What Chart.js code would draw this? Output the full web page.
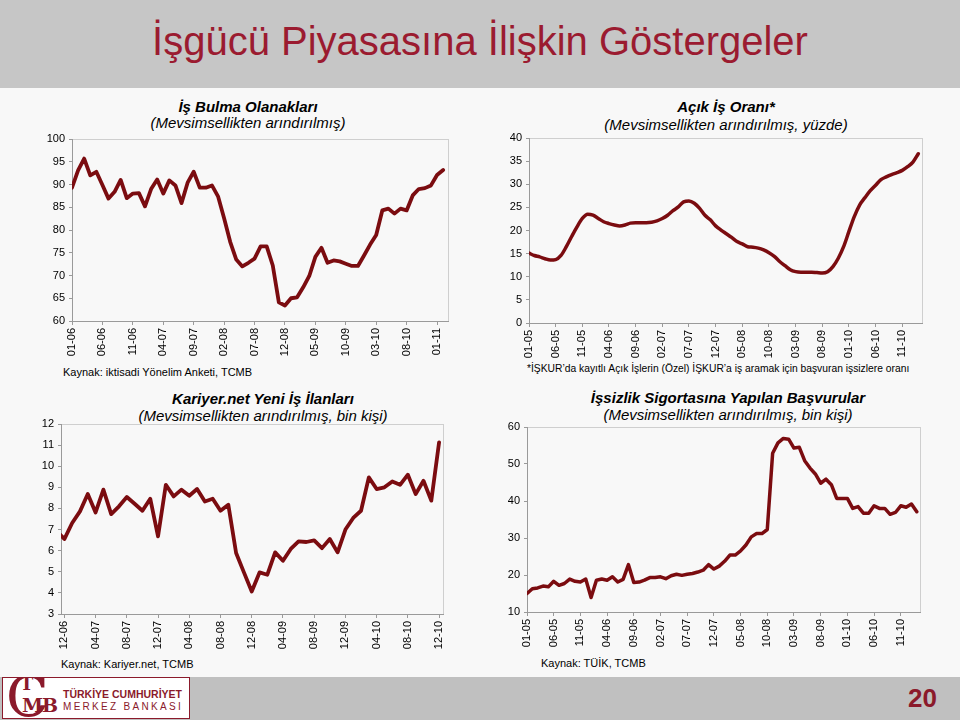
<!DOCTYPE html>
<html>
<head>
<meta charset="utf-8">
<script src="https://cdn.jsdelivr.net/npm/chart.js@4.4.1/dist/chart.umd.min.js"></script>
<style>
html,body{margin:0;padding:0;}
body{width:960px;height:720px;position:relative;background:#f8f8f8;font-family:"Liberation Sans",Arial,sans-serif;overflow:hidden;}
#header{position:absolute;left:0;top:0;width:960px;height:88px;background:#c6c6c6;}
#heading{position:absolute;left:0;width:960px;top:17px;text-align:center;font-size:40px;line-height:48px;color:#9b1b30;white-space:nowrap;}
.t{position:absolute;width:440px;text-align:center;font-weight:bold;font-style:italic;font-size:15px;line-height:16px;color:#000;white-space:nowrap;}
.s{position:absolute;width:440px;text-align:center;font-style:italic;font-size:15px;line-height:16px;color:#000;white-space:nowrap;}
.src{position:absolute;font-size:11px;line-height:12px;color:#000;white-space:nowrap;}
canvas{position:absolute;}
#footer{position:absolute;left:0;top:677px;width:960px;height:43px;background:#c0c0c0;}
#logo{position:absolute;left:2px;top:677px;width:186px;height:40px;background:#fff;border:1px solid #8b1a2b;overflow:hidden;}
#pg{position:absolute;left:908px;top:684px;font-size:26px;font-weight:bold;color:#8b1a2b;line-height:28px;}
</style>
</head>
<body>
<div id="header"></div>
<div id="heading">İşgücü Piyasasına İlişkin Göstergeler</div>

<div class="t" style="left:28px;top:99px;">İş Bulma Olanakları</div>
<div class="s" style="left:28px;top:115px;">(Mevsimsellikten arındırılmış)</div>
<div class="src" style="left:63px;top:366px;">Kaynak: iktisadi Yönelim Anketi, TCMB</div>

<div class="t" style="left:506px;top:99px;">Açık İş Oranı*</div>
<div class="s" style="left:506px;top:117px;">(Mevsimsellikten arındırılmış, yüzde)</div>
<div class="src" style="left:527px;top:363px;font-size:10.3px;">*İŞKUR’da kayıtlı Açık İşlerin (Özel) İŞKUR’a iş aramak için başvuran işsizlere oranı</div>

<div class="t" style="left:43px;top:391px;">Kariyer.net Yeni İş İlanları</div>
<div class="s" style="left:43px;top:408px;">(Mevsimsellikten arındırılmış, bin kişi)</div>
<div class="src" style="left:61px;top:658px;">Kaynak: Kariyer.net, TCMB</div>

<div class="t" style="left:508px;top:390px;">İşsizlik Sigortasına Yapılan Başvurular</div>
<div class="s" style="left:508px;top:407px;">(Mevsimsellikten arındırılmış, bin kişi)</div>
<div class="src" style="left:541px;top:657px;">Kaynak: TÜİK, TCMB</div>

<canvas id="c1"></canvas>
<canvas id="c2"></canvas>
<canvas id="c3"></canvas>
<canvas id="c4"></canvas>

<div id="footer"></div>
<div id="logo">
  <div style="position:absolute;left:3px;top:-11px;font-family:'DejaVu Serif',serif;font-size:56px;line-height:60px;color:#8b1a2b;">C</div>
  <div style="position:absolute;left:17px;top:-3px;font-family:'DejaVu Serif',serif;font-size:18px;line-height:18px;color:#8b1a2b;font-weight:bold;">T</div>
  <div style="position:absolute;left:19px;top:17px;font-family:'DejaVu Serif',serif;font-size:19px;line-height:20px;color:#8b1a2b;font-weight:bold;letter-spacing:-1px;">MB</div>
  <div style="position:absolute;left:60px;top:10px;font-size:10.5px;line-height:12px;color:#8b1a2b;font-weight:bold;white-space:nowrap;">TÜRKİYE CUMHURİYET</div>
  <div style="position:absolute;left:60px;top:23px;font-size:10px;line-height:11px;color:#8b1a2b;letter-spacing:2.3px;white-space:nowrap;">MERKEZ BANKASI</div>
</div>
<div id="pg">20</div>

<script>
// ---------- DATA ----------
// İş Bulma Olanakları (01-06 .. 02-11)
const isBulmaStart = [1, 2006];
const isBulma = [89.3, 93.1, 95.7, 92.0, 92.8, 89.9, 86.9, 88.4, 91.0, 87.0,
  88.0, 88.1, 85.2, 89.0, 91.1, 88.0, 90.9, 89.8, 85.9, 90.4,
  92.8, 89.3, 89.3, 89.8, 87.4, 82.6, 77.4, 73.5, 72.0, 72.8,
  73.7, 76.4, 76.4, 72.2, 64.1, 63.4, 65.0, 65.2, 67.4, 69.9,
  74.1, 76.1, 72.8, 73.3, 73.1, 72.6, 72.1, 72.1, 74.4, 76.8,
  78.9, 84.3, 84.7, 83.6, 84.7, 84.3, 87.6, 89.0, 89.2, 89.8, 92.1, 93.2];
const isBulmaYTicks = [60, 65, 70, 75, 80, 85, 90, 95, 100];

// Açık İş Oranı (01-05 .. 02-11)
const acikIsStart = [1, 2005];
const acikIs = [15.1, 14.6, 14.3, 13.9, 13.6, 13.7, 14.6, 16.5, 18.7, 20.8, 22.6, 23.5,
  23.3, 22.6, 21.9, 21.5, 21.2, 21.0, 21.2, 21.6, 21.7, 21.7, 21.7, 21.8,
  22.1, 22.6, 23.3, 24.3, 25.1, 26.2, 26.4, 25.9, 24.8, 23.3, 22.3, 21.0,
  20.1, 19.3, 18.5, 17.6, 17.1, 16.5, 16.4, 16.2, 15.8, 15.2, 14.4, 13.3,
  12.4, 11.5, 11.1, 11.0, 11.0, 11.0, 10.9, 10.8, 11.1, 12.2, 14.0, 16.5,
  19.8, 23.0, 25.5, 27.1, 28.6, 29.8, 31.0, 31.6, 32.1, 32.5, 33.0, 33.8,
  34.8, 36.6];
const acikIsYTicks = [0, 5, 10, 15, 20, 25, 30, 35, 40];

// Kariyer.net Yeni İş İlanları (11-06 .. 12-10)
const kariyerStart = [11, 2006];
const kariyer = [6.95, 6.55, 7.31, 7.86, 8.68, 7.81, 8.89, 7.73, 8.10, 8.54,
  8.22, 7.89, 8.46, 6.68, 9.12, 8.57, 8.89, 8.60, 8.92, 8.33,
  8.46, 7.89, 8.18, 5.89, 4.97, 4.07, 4.97, 4.86, 5.92, 5.52,
  6.08, 6.44, 6.41, 6.49, 6.12, 6.55, 5.92, 7.00, 7.55, 7.89,
  9.47, 8.92, 9.00, 9.28, 9.12, 9.60, 8.68, 9.31, 8.37, 11.13];
const kariyerYTicks = [3, 4, 5, 6, 7, 8, 9, 10, 11, 12];

// İşsizlik Sigortasına Yapılan Başvurular (01-05 .. 02-11)
const sigortaStart = [1, 2005];
const sigorta = [15.0, 16.3, 16.5, 17.0, 16.8, 18.3, 17.2, 17.7, 18.9, 18.3, 18.1, 18.9,
  13.9, 18.6, 18.9, 18.6, 19.5, 18.1, 18.8, 22.8, 18.0, 18.1, 18.6, 19.3,
  19.3, 19.5, 19.0, 19.8, 20.2, 19.9, 20.2, 20.4, 20.8, 21.3, 22.8, 21.6,
  22.4, 23.7, 25.4, 25.4, 26.5, 28.1, 30.3, 31.2, 31.2, 32.3, 52.9, 55.7,
  56.9, 56.7, 54.3, 54.5, 50.9, 48.9, 47.3, 44.8, 45.9, 44.4, 40.7, 40.7,
  40.7, 38.0, 38.5, 36.7, 36.7, 38.7, 38.0, 38.0, 36.4, 36.9, 38.7, 38.3,
  39.2, 37.1];
const sigortaYTicks = [10, 20, 30, 40, 50, 60];

// ---------- HELPERS ----------
function monthLabels(start, n) {
  const out = [];
  let m = start[0], y = start[1];
  for (let i = 0; i < n; i++) {
    out.push(String(m).padStart(2, '0') + '-' + String(y % 100).padStart(2, '0'));
    m++; if (m > 12) { m = 1; y++; }
  }
  return out;
}

const FONT = '"Liberation Sans", Arial, sans-serif';
const LINE = '#7b0c10';
const AXIS = '#9a9a9a';

const framePlugin = {
  id: 'frame',
  beforeDraw(chart) {
    const a = chart.chartArea, c = chart.ctx;
    c.save();
    c.strokeStyle = '#cfcfcf';
    c.lineWidth = 1;
    c.strokeRect(Math.round(a.left) + 0.5, Math.round(a.top) + 0.5,
      Math.round(a.right - a.left), Math.round(a.bottom - a.top));
    c.restore();
  }
};

function makeChart(id, box, values, labels, o) {
  const YW = 60, XH = 50, PT = 10, PR = 12;
  const cv = document.getElementById(id);
  const w = (box.r - box.l) + YW + PR;
  const h = (box.b - box.t) + PT + XH;
  cv.width = w; cv.height = h;
  cv.style.left = (box.l - YW) + 'px';
  cv.style.top = (box.t - PT) + 'px';
  cv.style.width = w + 'px'; cv.style.height = h + 'px';
  const pts = values.map((v, i) => ({ x: i, y: v }));
  new Chart(cv.getContext('2d'), {
    type: 'line',
    data: { datasets: [{
      data: pts, borderColor: LINE, borderWidth: o.bw || 3.5, pointRadius: 0,
      tension: o.smooth ? 0.4 : 0, cubicInterpolationMode: o.smooth ? 'monotone' : 'default',
      borderJoinStyle: 'round', borderCapStyle: 'round', fill: false,
      clip: { left: 0, top: 5, right: 5, bottom: 5 }
    }] },
    options: {
      responsive: false, animation: false, devicePixelRatio: 1,
      layout: { padding: { left: 0, top: PT, right: PR, bottom: 0 } },
      plugins: { legend: { display: false }, tooltip: { enabled: false }, title: { display: false } },
      scales: {
        x: {
          type: 'linear', min: o.xmin, max: o.xmax,
          afterBuildTicks: (ax) => { ax.ticks = o.xTicks.map(v => ({ value: v })); },
          afterFit: (ax) => { ax.height = XH; ax.paddingLeft = 0; ax.paddingRight = 0; },
          ticks: { autoSkip: false, minRotation: 90, maxRotation: 90, padding: 3,
            color: '#000', font: { family: FONT, size: 11 },
            callback: (v) => labels[v] },
          grid: { display: true, drawOnChartArea: false, drawTicks: true, tickLength: 4, color: AXIS },
          border: { display: true, color: AXIS, width: 1 }
        },
        y: {
          type: 'linear', min: o.yTicks[0], max: o.yTicks[o.yTicks.length - 1],
          afterBuildTicks: (ax) => { ax.ticks = o.yTicks.map(v => ({ value: v })); },
          afterFit: (ax) => { ax.width = YW; ax.paddingTop = 0; ax.paddingBottom = 0; },
          ticks: { padding: 4, color: '#000', font: { family: FONT, size: 11 },
            callback: (v) => String(v) },
          grid: { display: true, drawOnChartArea: false, drawTicks: true, tickLength: 3, color: AXIS },
          border: { display: true, color: AXIS, width: 1 }
        }
      }
    },
    plugins: [framePlugin]
  });
}

// ---------- CHARTS ----------
const l1 = monthLabels(isBulmaStart, isBulma.length);
makeChart('c1', { l: 72, t: 139, r: 448, b: 321 }, isBulma, l1,
  { xmin: 0, xmax: 61.8, xTicks: [0,5,10,15,20,25,30,35,40,45,50,55,60], yTicks: isBulmaYTicks, bw: 3.8 });

const l2 = monthLabels(acikIsStart, acikIs.length);
makeChart('c2', { l: 529, t: 138, r: 922, b: 323 }, acikIs, l2,
  { xmin: 0, xmax: 73.7, xTicks: [0,5,10,15,20,25,30,35,40,45,50,55,60,65,70], yTicks: acikIsYTicks, smooth: true, bw: 3.5 });

const l3 = monthLabels(kariyerStart, kariyer.length);
makeChart('c3', { l: 61, t: 424, r: 443, b: 614 }, kariyer, l3,
  { xmin: 0.57, xmax: 49.5, xTicks: [1,5,9,13,17,21,25,29,33,37,41,45,49], yTicks: kariyerYTicks, bw: 3.8 });

const l4 = monthLabels(sigortaStart, sigorta.length);
makeChart('c4', { l: 527, t: 427, r: 920, b: 612 }, sigorta, l4,
  { xmin: 0, xmax: 73.6, xTicks: [0,5,10,15,20,25,30,35,40,45,50,55,60,65,70], yTicks: sigortaYTicks, bw: 3.5 });
</script>
</body>
</html>
